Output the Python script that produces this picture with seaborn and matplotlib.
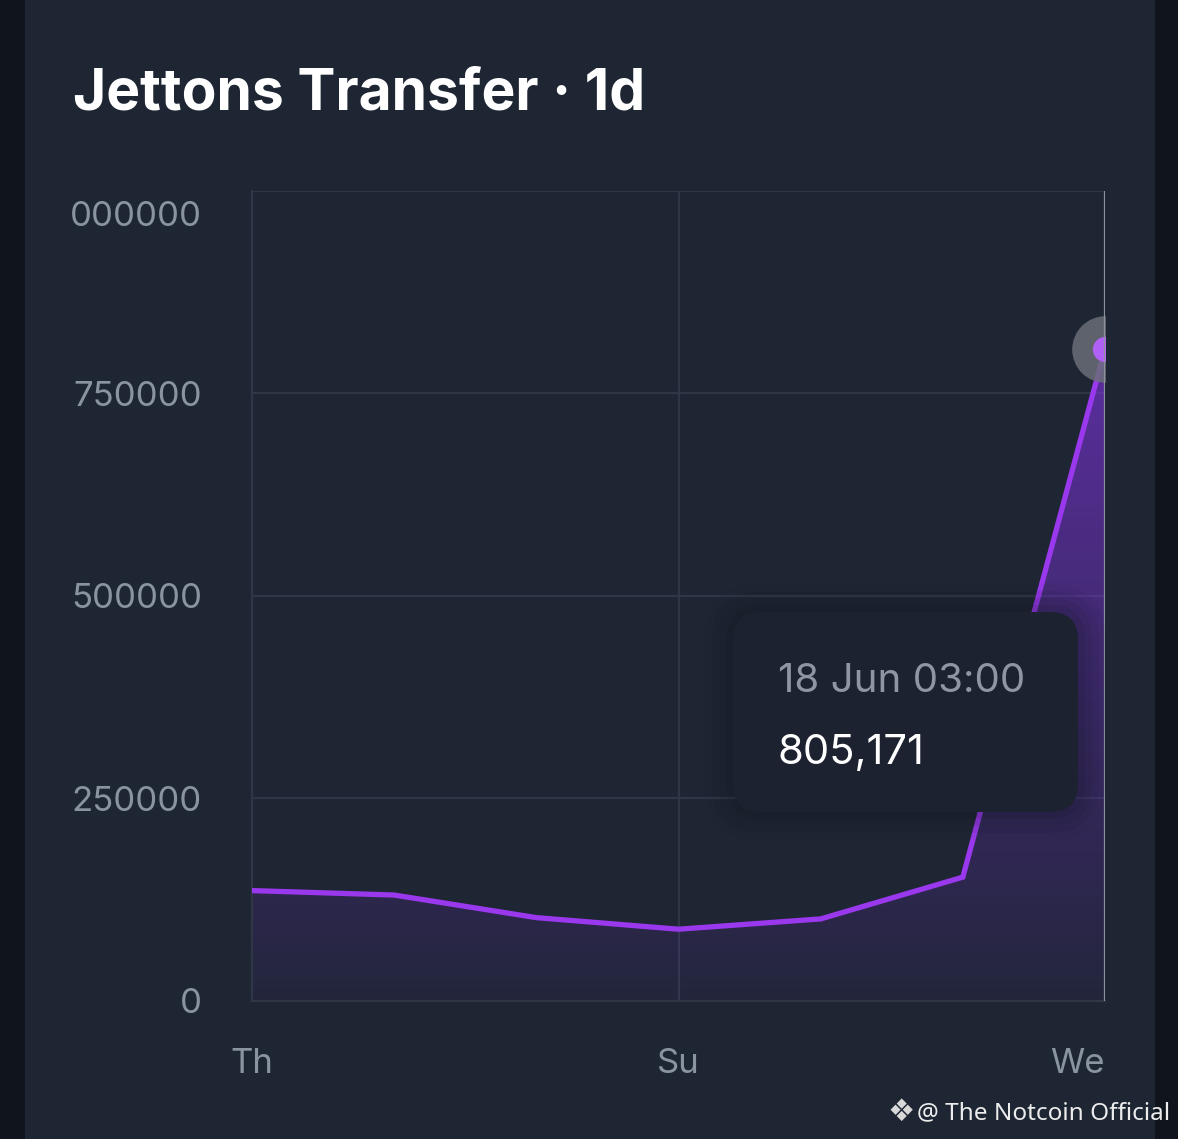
import numpy as np
import pandas as pd
import matplotlib
matplotlib.use("Agg")
import matplotlib.pyplot as plt
import matplotlib.transforms as mtransforms
import seaborn as sns
from matplotlib.patches import FancyBboxPatch, Rectangle

# ---- data ----
days = ["Th", "Fr", "Sa", "Su", "Mo", "Tu", "We"]
transfers = [136000, 130500, 102600, 88300, 101000, 152600, 805171]
ytick_values = [0, 250000, 500000, 750000, 1000000]
ytick_labels = ["0", "250000", "500000", "750000", "000000"]
xtick_labels = ["Th", "Su", "We"]
title = "Jettons Transfer · 1d"
tip_date = "18 Jun 03:00"
tip_value = "805,171"
watermark = "@ The Notcoin Official"

BG = "#1e2533"
STRIP = "#10151d"
GRID = "#2f3746"
TICK = "#8a93a0"
LINE = "#9a38ee"
FILL = "#8a35f0"

sns.set_theme(style="dark")
plt.rcParams["font.family"] = ["Inter", "DejaVu Sans"]

W, H = 1178, 1139
fig = plt.figure(figsize=(W / 100, H / 100), dpi=100)
fig.patch.set_facecolor(STRIP)

# overlay pixel axes for decorations (behind)
deco = fig.add_axes([0, 0, 1, 1], zorder=0)
deco.set_xlim(0, W)
deco.set_ylim(H, 0)
deco.axis("off")
deco.add_patch(Rectangle((25, 0), 1130, H, facecolor=BG, edgecolor="none"))

x0, x1, yb, yt = 252, 1105, 1000.7, 191
ax = fig.add_axes([x0 / W, (H - yb) / H, (x1 - x0) / W, (yb - yt) / H], zorder=1)
ax.set_facecolor("none")

df = pd.DataFrame({"idx": np.arange(len(days)), "day": days, "value": transfers})

# gradient fill under the line
poly = ax.fill_between(df["idx"], 0, df["value"], facecolor="none", edgecolor="none")
n = 256
alpha = np.linspace(0.05, 0.70, n)[::-1]
rgb = np.array(matplotlib.colors.to_rgb(FILL))
img = np.zeros((n, 2, 4))
img[:, :, :3] = rgb
img[:, :, 3] = alpha[:, None]
im = ax.imshow(img, extent=[0, len(days) - 1, 0, 1000000], aspect="auto",
               origin="upper", zorder=2)
im.set_clip_path(poly.get_paths()[0], transform=ax.transData)

sns.lineplot(data=df, x="idx", y="value", ax=ax, color=LINE, linewidth=3.8,
             zorder=4, solid_joinstyle="miter")

# highlighted last point
ax.scatter([df["idx"].iloc[-1]], [df["value"].iloc[-1]], s=2300, color="#6a6e78",
           alpha=0.85, zorder=5, linewidths=0)
ax.scatter([df["idx"].iloc[-1]], [df["value"].iloc[-1]], s=330, color="#b061f5",
           zorder=6, linewidths=0)

# crosshair
ax.axvline(len(days) - 1, color="#8d929b", linewidth=1.6, zorder=7)

ax.set_xlim(0, len(days) - 1)
ax.set_ylim(0, 1000000)
ax.set_yticks(ytick_values)
ax.set_yticklabels(ytick_labels)
ax.set_xticks([days.index(d) for d in xtick_labels])
ax.set_xticklabels(xtick_labels)
ax.tick_params(axis="y", colors=TICK, labelsize=25, length=0, pad=36)
ax.tick_params(axis="x", colors=TICK, labelsize=25, length=0, pad=34)
# top y label sits below its gridline, last x label right-aligned
ylabs = ax.get_yticklabels()
ylabs[-1].set_transform(ylabs[-1].get_transform() +
                        mtransforms.ScaledTranslation(0, -0.23, fig.dpi_scale_trans))
xlabs = ax.get_xticklabels()
xlabs[-1].set_horizontalalignment("right")
ax.grid(True, color=GRID, linewidth=1.6, zorder=1)
ax.set_axisbelow(True)
for s in ["top", "right"]:
    ax.spines[s].set_visible(False)
for s in ["left", "bottom"]:
    ax.spines[s].set_color(GRID)
    ax.spines[s].set_linewidth(1.6)
ax.set_xlabel("")
ax.set_ylabel("")

# overlay axes for tooltip etc (front)
top = fig.add_axes([0, 0, 1, 1], zorder=3)
top.set_xlim(0, W)
top.set_ylim(H, 0)
top.axis("off")
top.patch.set_alpha(0)

# title
top.text(73, 110, title, fontsize=41, fontweight="bold", color="white",
         ha="left", va="baseline")

# tooltip with soft shadow
for i, a in enumerate([0.05, 0.07, 0.09, 0.11]):
    pad = 28 - i * 7
    top.add_patch(FancyBboxPatch((733 - pad, 612 - pad), 345 + 2 * pad, 200 + 2 * pad,
                                 boxstyle="round,pad=0,rounding_size=%d" % (28 + pad),
                                 facecolor="#121722", edgecolor="none", alpha=a))
top.add_patch(FancyBboxPatch((733, 612), 345, 200,
                             boxstyle="round,pad=0,rounding_size=28",
                             facecolor="#1c2230", edgecolor="none"))
top.text(778, 692, tip_date, fontsize=29, color="#8e96a2", ha="left", va="baseline")
top.text(778, 764, tip_value, fontsize=30, color="white", ha="left", va="baseline")

# watermark
top.text(901, 1112, "❖", fontsize=22, color="#d8d8d8", ha="center", va="center",
         family=["DejaVu Sans"])
top.text(1170, 1113, watermark, fontsize=17.5, color="#ececec", ha="right", va="center",
         family=["Noto Sans", "DejaVu Sans"])

fig.savefig("out.png", dpi=100, facecolor=fig.get_facecolor())
